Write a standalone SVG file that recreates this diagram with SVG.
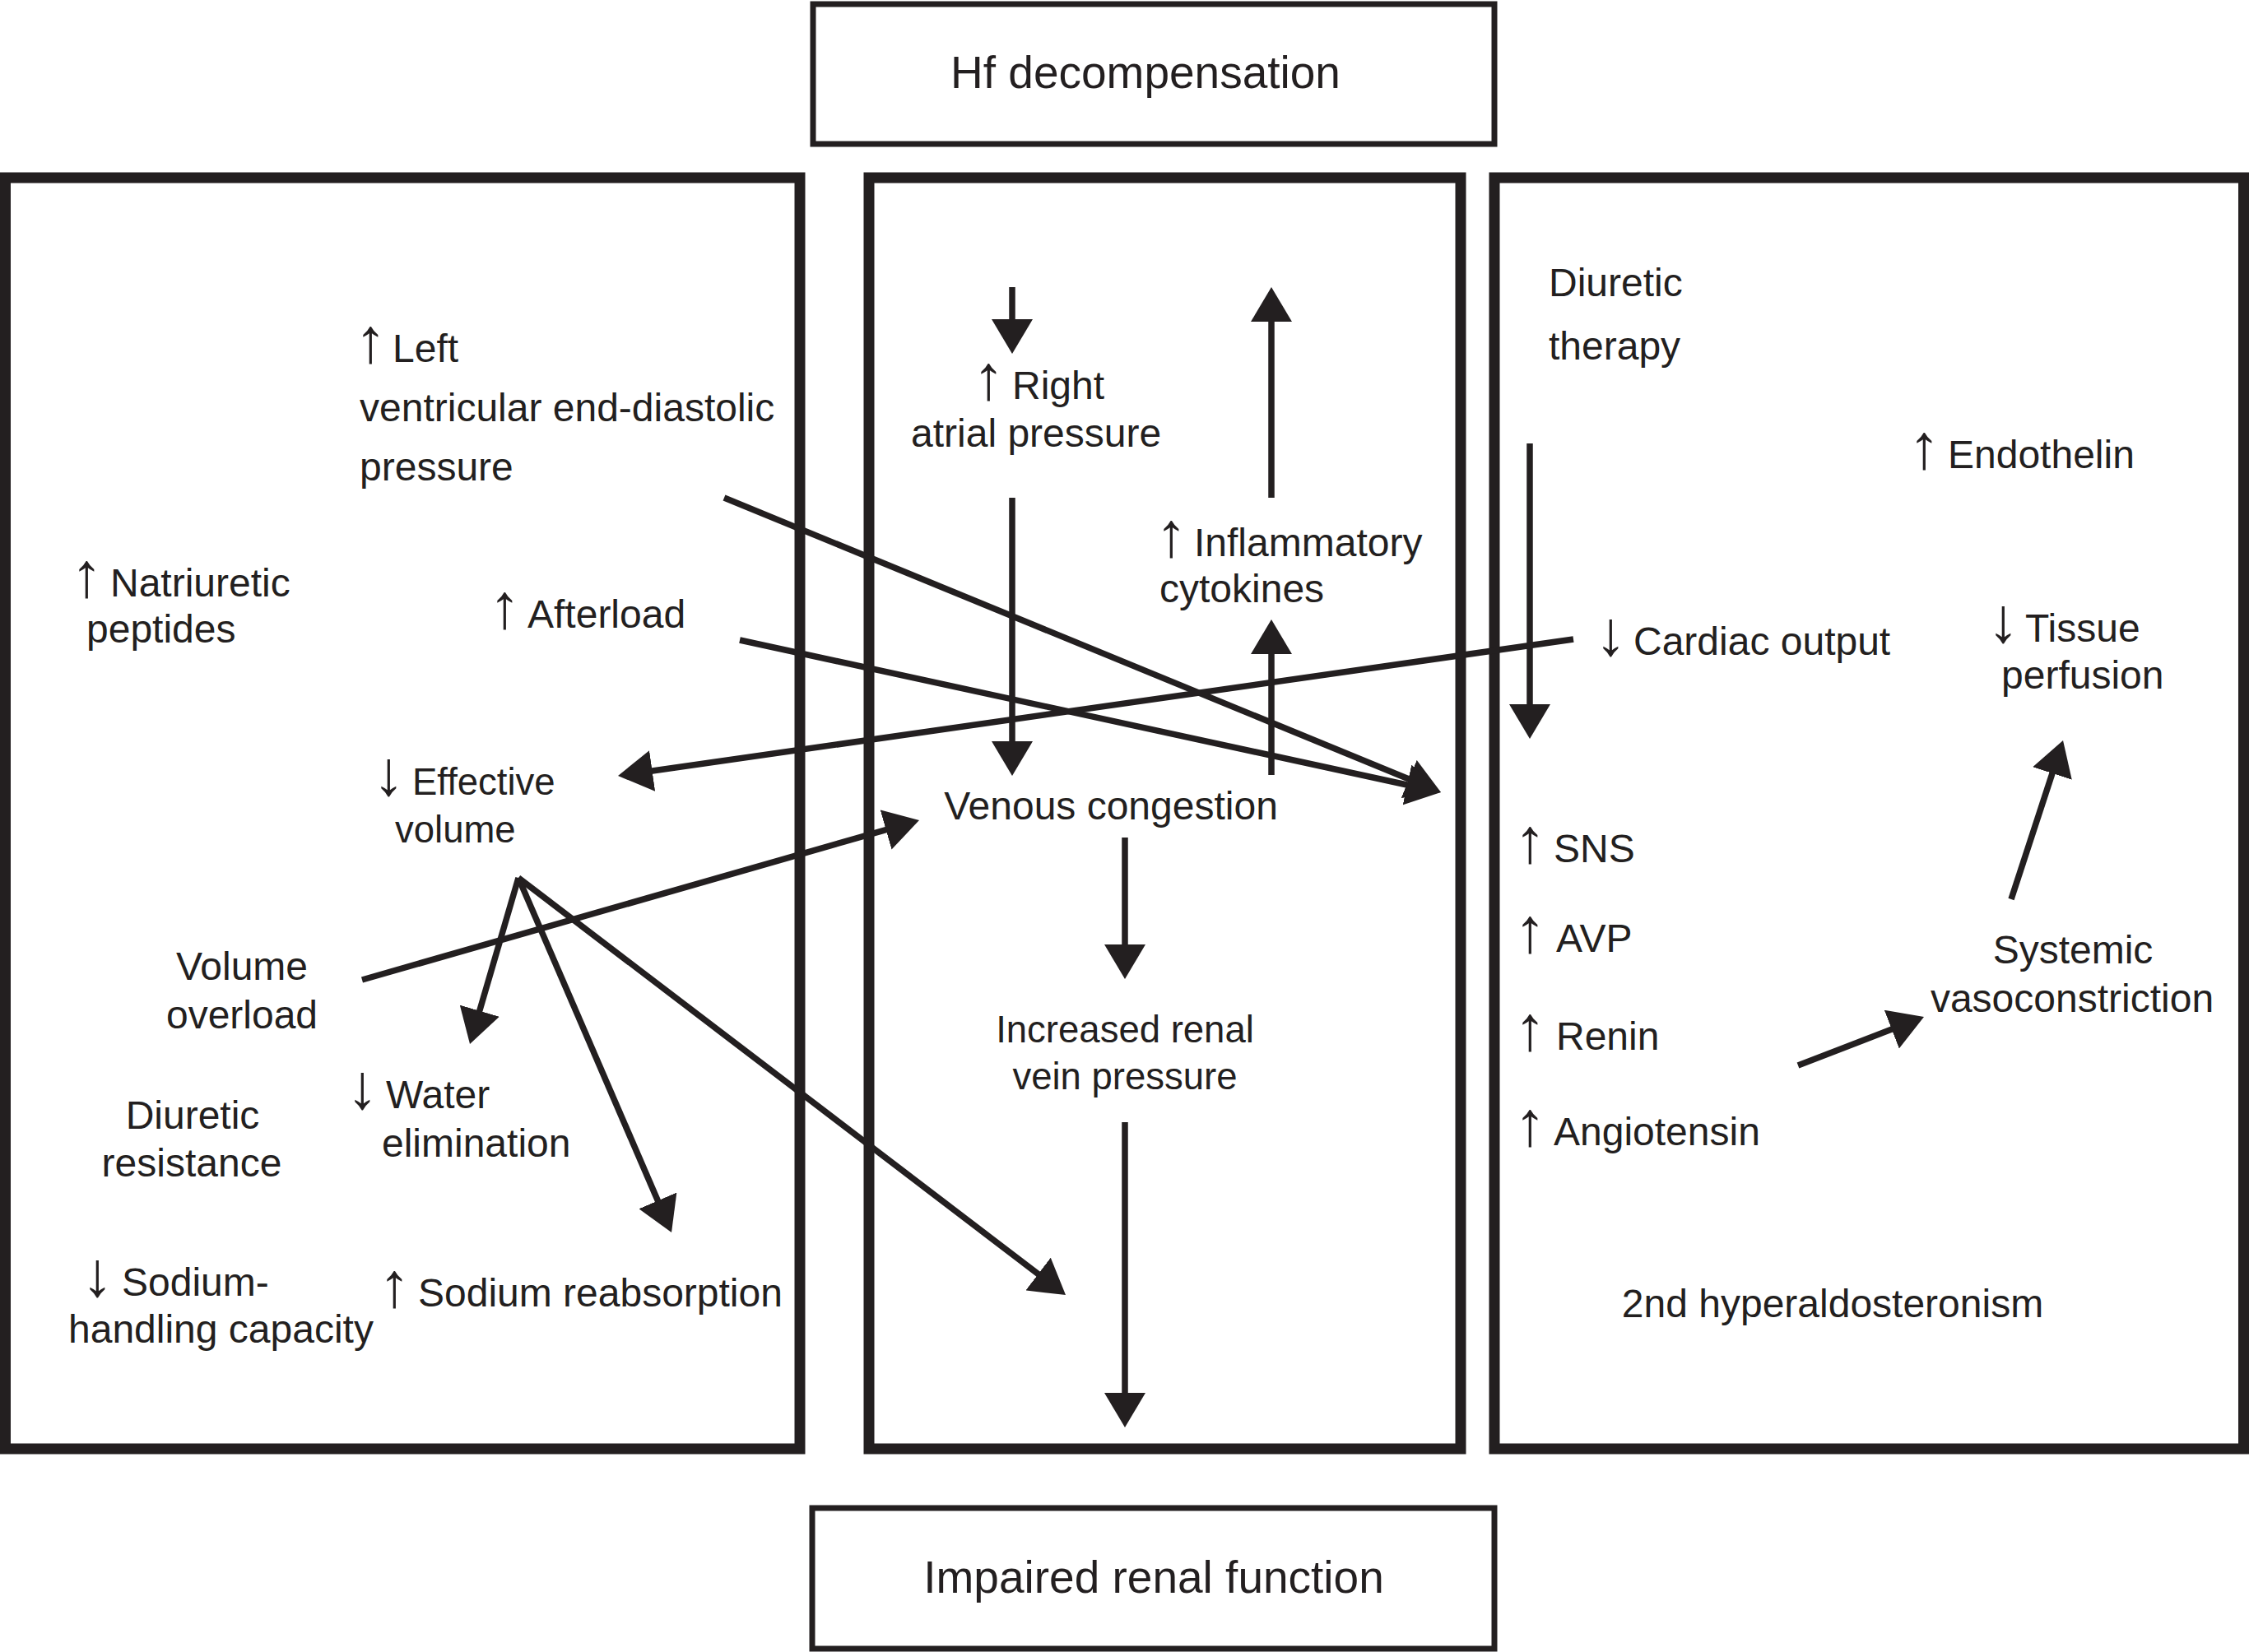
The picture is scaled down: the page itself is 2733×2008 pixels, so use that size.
<svg xmlns="http://www.w3.org/2000/svg" width="2733" height="2008" viewBox="0 0 2733 2008">
<defs>
<style>
text{font-family:"Liberation Sans",Arial,Helvetica,sans-serif;font-size:48px;fill:#231f20}
.t{font-size:55px}
.s{font-size:45.5px}
.m{text-anchor:middle}
.ar{font-size:77px}
.big{fill:none;stroke:#231f20;stroke-width:13}
.ttl{fill:none;stroke:#231f20;stroke-width:7}
.c{stroke:#231f20;stroke-width:7.5;fill:none;marker-end:url(#ah)}
</style>
<marker id="ah" viewBox="0 0 42 50" refX="21" refY="25" markerWidth="42" markerHeight="50" markerUnits="userSpaceOnUse" orient="auto">
<path d="M0,0 L42,25 L0,50 Z" fill="#231f20"/>
</marker>
</defs>
<rect width="2733" height="2008" fill="#ffffff"/>

<g id="hf-decompensation">
<rect class="ttl" x="988" y="5" width="828" height="170"/>
<text class="t m" x="1392" y="107">Hf decompensation</text>
</g>

<g id="impaired-renal-function">
<rect class="ttl" x="987" y="1833" width="829" height="171"/>
<text class="t m" x="1402" y="1936">Impaired renal function</text>
</g>

<g id="left-panel">
<rect class="big" x="6.5" y="216" width="965.5" height="1545"/>
</g>
<g id="middle-panel">
<rect class="big" x="1056" y="216" width="719" height="1545"/>
</g>
<g id="right-panel">
<rect class="big" x="1816" y="216" width="910.5" height="1545"/>
</g>

<g id="lvedp"><text x="437" y="440"><tspan class="ar" dx="-6">↑</tspan><tspan x="477">Left</tspan></text><text x="437" y="512">ventricular end-diastolic</text><text x="437" y="584">pressure</text></g>
<g id="natriuretic"><text x="92" y="725"><tspan class="ar" dx="-6">↑</tspan><tspan x="134">Natriuretic</tspan></text><text x="105" y="781">peptides</text></g>
<g id="afterload"><text x="600" y="763"><tspan class="ar" dx="-6">↑</tspan><tspan x="641">Afterload</tspan></text></g>
<g id="effective-volume"><text x="459" y="966"><tspan class="ar" dx="-6">↓</tspan><tspan class="s" x="501">Effective</tspan></text><text class="s" x="480" y="1024">volume</text></g>
<g id="volume-overload"><text class="m" x="294" y="1191">Volume</text><text class="m" x="294" y="1250">overload</text></g>
<g id="water-elimination"><text x="427" y="1347"><tspan class="ar" dx="-6">↓</tspan><tspan x="469">Water</tspan></text><text x="464" y="1406">elimination</text></g>
<g id="diuretic-resistance"><text class="m" x="234" y="1372">Diuretic</text><text class="m" x="233" y="1430">resistance</text></g>
<g id="sodium-handling"><text x="105" y="1575"><tspan class="ar" dx="-6">↓</tspan><tspan x="148">Sodium-</tspan></text><text x="83" y="1632">handling capacity</text></g>
<g id="sodium-reabsorption"><text x="466" y="1588"><tspan class="ar" dx="-6">↑</tspan><tspan x="508">Sodium reabsorption</tspan></text></g>

<g id="right-atrial-pressure"><text x="1188" y="485"><tspan class="ar" dx="-6">↑</tspan><tspan x="1230">Right</tspan></text><text x="1107" y="543">atrial pressure</text></g>
<g id="inflammatory-cytokines"><text x="1410" y="676"><tspan class="ar" dx="-6">↑</tspan><tspan x="1451">Inflammatory</tspan></text><text x="1409" y="732">cytokines</text></g>
<g id="venous-congestion"><text class="m" x="1350" y="996">Venous congestion</text></g>
<g id="renal-vein-pressure"><text class="m s" x="1367" y="1267">Increased renal</text><text class="m s" x="1367" y="1324">vein pressure</text></g>

<g id="diuretic-therapy"><text x="1882" y="360">Diuretic</text><text x="1882" y="437">therapy</text></g>
<g id="endothelin"><text x="2325" y="569"><tspan class="ar" dx="-6">↑</tspan><tspan x="2367">Endothelin</tspan></text></g>
<g id="cardiac-output"><text x="1944" y="796"><tspan class="ar" dx="-6">↓</tspan><tspan x="1985">Cardiac output</tspan></text></g>
<g id="tissue-perfusion"><text x="2421" y="780"><tspan class="ar" dx="-6">↓</tspan><tspan x="2461">Tissue</tspan></text><text x="2432" y="837">perfusion</text></g>
<g id="sns"><text x="1846" y="1048"><tspan class="ar" dx="-6">↑</tspan><tspan x="1888">SNS</tspan></text></g>
<g id="avp"><text x="1846" y="1157"><tspan class="ar" dx="-6">↑</tspan><tspan x="1891">AVP</tspan></text></g>
<g id="renin"><text x="1846" y="1276"><tspan class="ar" dx="-6">↑</tspan><tspan x="1891">Renin</tspan></text></g>
<g id="angiotensin"><text x="1846" y="1392"><tspan class="ar" dx="-6">↑</tspan><tspan x="1888">Angiotensin</tspan></text></g>
<g id="systemic-vasoconstriction"><text class="m" x="2519" y="1171">Systemic</text><text class="m" x="2518" y="1230">vasoconstriction</text></g>
<g id="hyperaldosteronism"><text class="m" x="2227" y="1601">2nd hyperaldosteronism</text></g>

<g id="connectors">
<line class="c" x1="1230" y1="349" x2="1230" y2="409"/>
<line class="c" x1="1230" y1="605" x2="1230" y2="922"/>
<line class="c" x1="1545" y1="605" x2="1545" y2="370"/>
<line class="c" x1="1545" y1="942" x2="1545" y2="774"/>
<line class="c" x1="1859" y1="539" x2="1859" y2="877"/>
<line class="c" x1="1367" y1="1018" x2="1367" y2="1169"/>
<line class="c" x1="1367" y1="1364" x2="1367" y2="1714"/>
<line class="c" x1="880" y1="605" x2="1731.6" y2="955"/>
<line class="c" x1="899" y1="778" x2="1730.5" y2="958.5"/>
<line class="c" x1="1912" y1="777" x2="771.8" y2="940"/>
<line class="c" x1="440" y1="1191" x2="1096.8" y2="1002.8"/>
<line class="c" x1="630" y1="1067" x2="576.9" y2="1248.8"/>
<line class="c" x1="630" y1="1067" x2="807.7" y2="1478.7"/>
<line class="c" x1="630" y1="1067" x2="1278.3" y2="1561.3"/>
<line class="c" x1="2185" y1="1295" x2="2318.4" y2="1243.6"/>
<line class="c" x1="2444" y1="1093" x2="2500.5" y2="920"/>
</g>
</svg>
